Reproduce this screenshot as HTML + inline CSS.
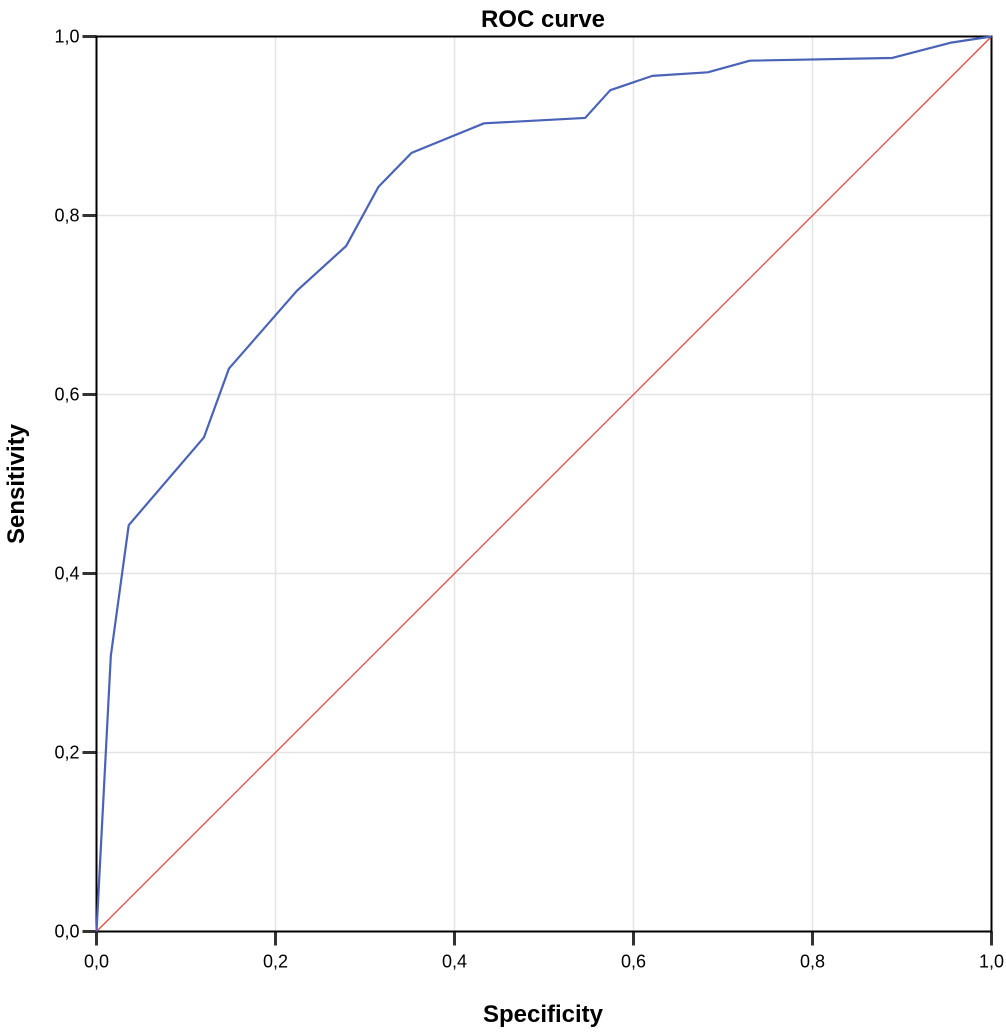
<!DOCTYPE html>
<html><head><meta charset="utf-8"><style>
body{margin:0;background:#fff;}
svg text{font-family:"Liberation Sans",sans-serif;}
</style></head><body>
<svg width="1006" height="1028" viewBox="0 0 1006 1028">
<g id="grid"></g>
<g id="axes"></g>
<g id="series"></g>
<text x="543" y="27" text-anchor="middle" font-size="24" font-weight="bold">ROC curve</text>
<text x="543" y="1022" text-anchor="middle" font-size="24" font-weight="bold">Specificity</text>
<text transform="translate(24,484) rotate(-90)" text-anchor="middle" font-size="24" font-weight="bold">Sensitivity</text>
</svg>
<script>
const ticks=[0,0.2,0.4,0.6,0.8,1.0];
const tickLabels=["0,0","0,2","0,4","0,6","0,8","1,0"];
const rocX=[0,0.016,0.036,0.12,0.148,0.224,0.279,0.315,0.352,0.433,0.546,0.574,0.621,0.683,0.730,0.889,0.954,1];
const rocY=[0,0.308,0.454,0.552,0.629,0.716,0.766,0.832,0.870,0.903,0.909,0.940,0.956,0.960,0.973,0.976,0.993,1];
const refX=[0,1], refY=[0,1];
const X0=96.5,X1=991.5,Y0=931.5,Y1=36.5;
const sx=v=>X0+v*(X1-X0), sy=v=>Y0-v*(Y0-Y1);
const NS="http://www.w3.org/2000/svg";
function mk(p,t,a){const e=document.createElementNS(NS,t);for(const k in a)e.setAttribute(k,a[k]);p.appendChild(e);return e;}
const grid=document.getElementById('grid'),axes=document.getElementById('axes'),ser=document.getElementById('series');
ticks.forEach((t,i)=>{
 if(t>0&&t<1){
  const gx=mk(grid,'line',{x1:sx(t),x2:sx(t),y1:Y1,y2:Y0,stroke:'#e4e4e4','stroke-width':1.5});
  
  
  const gy=mk(grid,'line',{x1:X0,x2:X1,y1:sy(t),y2:sy(t),stroke:'#e4e4e4','stroke-width':1.5});
  
  
 }
 mk(axes,'line',{x1:sx(t),x2:sx(t),y1:Y0,y2:Y0+14,stroke:'#333','stroke-width':3});
 mk(axes,'line',{x1:X0-14,x2:X0,y1:sy(t),y2:sy(t),stroke:'#333','stroke-width':3});
 const xl=mk(axes,'text',{x:sx(t),y:Y0+36,'text-anchor':'middle','font-size':18});
 xl.textContent=tickLabels[i];
 
 
 const yl=mk(axes,'text',{x:X0-17,y:sy(t)+6,'text-anchor':'end','font-size':18});
 yl.textContent=tickLabels[i];
 
 
});
const fr=mk(axes,'rect',{x:X0,y:Y1,width:X1-X0,height:Y0-Y1,fill:'none',stroke:'#000','stroke-width':2});


const ref=mk(ser,'polyline',{points:refX.map((v,i)=>sx(v)+','+sy(refY[i])).join(' '),fill:'none',stroke:'#ee4444','stroke-width':1.3});


const roc=mk(ser,'polyline',{points:rocX.map((v,i)=>sx(v)+','+sy(rocY[i])).join(' '),fill:'none',stroke:'#4a62b8','stroke-width':2.2,'stroke-linejoin':'round'});


</script>
</body></html>
